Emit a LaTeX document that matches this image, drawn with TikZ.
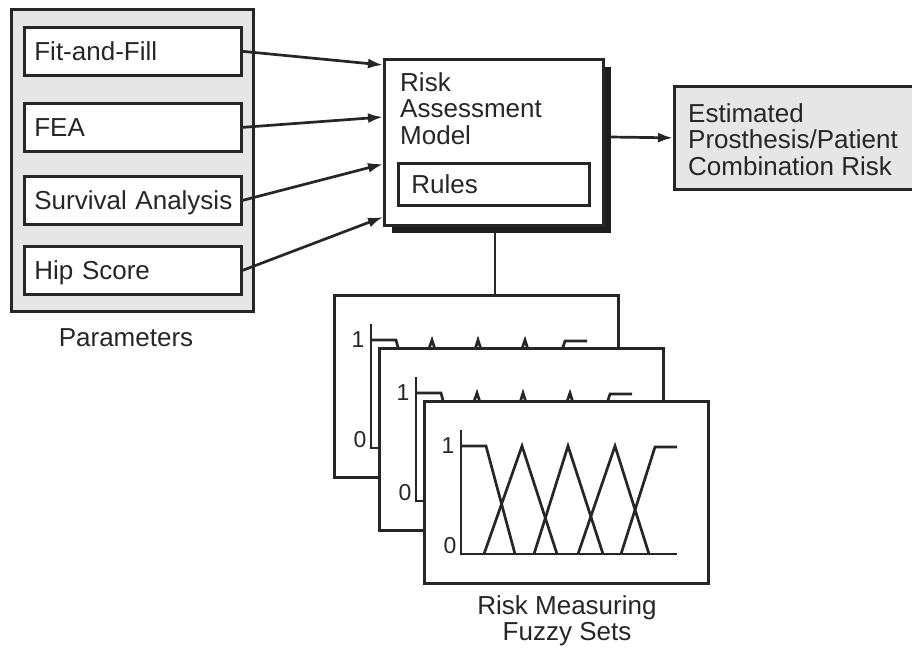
\documentclass[tikz,border=0pt]{standalone}
\usepackage{fontspec}
\setmainfont{Liberation Sans}
\usetikzlibrary{arrows.meta,shadows}
\definecolor{ink}{HTML}{262626}
\definecolor{stipple}{HTML}{E6E6E6}
\definecolor{shade}{HTML}{1E1E1E}

\tikzset{
  ln/.style={draw=ink, line width=2.7pt},
  arr/.style={ln, -{Latex[length=15pt,width=10pt]}},
  txt/.style={font=\fontsize{26}{26.5}\selectfont, text=ink},
  digit/.style={font=\fontsize{23}{24}\selectfont, text=ink, inner sep=0pt},
  gbox/.style={ln, fill=stipple, inner sep=0pt},
  wbox/.style={ln, fill=white, txt, align=left, inner ysep=0pt,
               text height=18.6pt, text depth=0pt},
  panel/.style={ln, fill=white, minimum width=284pt, minimum height=182pt,
                inner sep=0pt, anchor=north west},
  curve/.style={draw=ink, line width=2.7pt, line join=miter},
}

\begin{document}
\begin{tikzpicture}[x=1pt, y=-1pt]
\useasboundingbox (0,0) rectangle (912,654);

% --- input parameters -------------------------------------------------
\node[gbox, anchor=north west, minimum width=242pt, minimum height=302pt]
  (params) at (10,8) {};
\node[wbox, anchor=north west, minimum width=217pt, minimum height=48pt,
      text width=197pt, inner xsep=10pt] (ff)  at (23,26)  {\mbox{Fit-and-Fill}};
\node[wbox, anchor=north west, minimum width=217pt, minimum height=48pt,
      text width=197pt, inner xsep=10pt] (fea) at (23,102) {\mbox{FEA}};
\node[wbox, anchor=north west, minimum width=217pt, minimum height=48pt,
      text width=197pt, inner xsep=10pt] (sa)  at (23,175) {\mbox{Survival Analysis}};
\node[wbox, anchor=north west, minimum width=217pt, minimum height=48pt,
      text width=197pt, inner xsep=10pt] (hip) at (23,245) {\mbox{Hip Score}};
\node[txt, text height=18.6pt, text depth=0pt, inner sep=0pt] (plabel)
  at (126,337) {Parameters};

% --- risk assessment model ---------------------------------------------
\node[ln, fill=white, anchor=north west, minimum width=219pt,
      minimum height=166pt, inner sep=0pt,
      drop shadow={opacity=1, fill=shade, shadow xshift=8pt, shadow yshift=-8pt}]
  (model) at (383,58) {};
\node[txt, anchor=north west, align=left, inner sep=0pt] (mtitle)
  at (400,72) {Risk\\Assessment\\Model};
\node[wbox, anchor=north west, minimum width=191pt, minimum height=42pt,
      text width=165pt, inner xsep=13pt] (rules) at (397,162) {\mbox{Rules}};

\coordinate (in1) at (383,65);
\coordinate (in2) at (383,117);
\coordinate (in3) at (383,164);
\coordinate (in4) at (383,217);
\draw[arr] (ff.east)  -- (in1);
\draw[arr] (fea.east) -- (in2);
\draw[arr] (sa.east)  -- (in3);
\draw[arr] (hip.east) -- (in4);

% --- estimated risk ------------------------------------------------------
\node[gbox, anchor=north west, minimum width=245pt, minimum height=103pt]
  (result) at (673,85) {};
\node[txt, anchor=north west, align=left, inner sep=0pt] (rtext)
  at (688,103) {Estimated\\Prosthesis/Patient\\Combination Risk};
\coordinate (mout) at (610,137);
\draw[arr] (mout) -- (result.west);

% --- stacked fuzzy set panels ---------------------------------------------
\foreach \nm/\px/\py in {back/333/294, mid/378/347, front/423/400} {
  \node[panel] (\nm) at (\px,\py) {};
  \begin{scope}[shift={(\px,\py)}]
    \draw[curve] (38,30) -- (38,154) -- (254,154);
    \draw[curve] (38,46) -- (63,46) -- (92,154);
    \draw[curve] (61,154) -- (99,46) -- (134,154);
    \draw[curve] (111,154) -- (145,46) -- (180,154);
    \draw[curve] (155,154) -- (192,46) -- (226,154);
    \draw[curve] (198,154) -- (232,47) -- (254,47);
    \node[digit] (\nm-one)  at (25,46)  {1};
    \node[digit] (\nm-zero) at (27,146) {0};
  \end{scope}
}

\coordinate (tap) at (495,232);
\draw[ln] (tap) -- (tap |- back.north);

\node[txt, align=center, inner sep=0pt] (flabel)
  at (567,621) {Risk Measuring\\Fuzzy Sets};

\end{tikzpicture}
\end{document}
